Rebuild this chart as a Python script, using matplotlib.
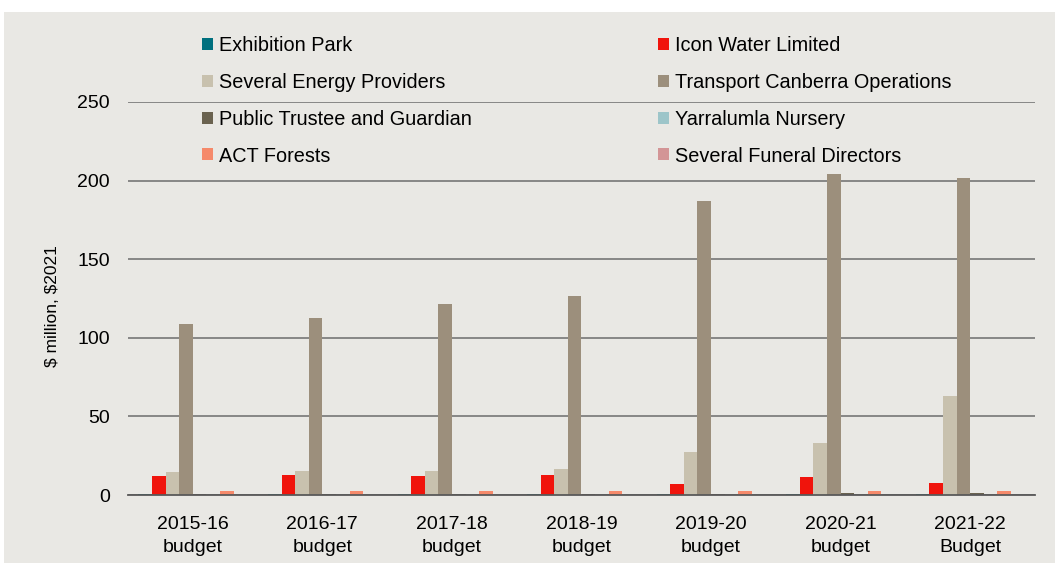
import numpy as np
import matplotlib
matplotlib.use("Agg")
from matplotlib import pyplot as plt
from matplotlib.patches import Rectangle

categories = ["2015-16\nbudget", "2016-17\nbudget", "2017-18\nbudget", "2018-19\nbudget",
              "2019-20\nbudget", "2020-21\nbudget", "2021-22\nBudget"]
series = ["Exhibition Park", "Icon Water Limited", "Several Energy Providers",
          "Transport Canberra Operations", "Public Trustee and Guardian",
          "Yarralumla Nursery", "ACT Forests", "Several Funeral Directors"]
exhibition = [0.4, 0.5, 0.5, 0.5, 0.5, 0.5, 0.5]
icon_water = [12.0, 12.8, 12.3, 13.0, 7.0, 11.3, 7.7]
energy = [14.8, 15.3, 15.0, 16.5, 27.5, 33.0, 63.0]
transport = [109.0, 112.8, 121.8, 126.3, 187.3, 204.0, 201.6]
trustee = [0.5, 0.5, 0.5, 0.5, 0.5, 1.0, 1.0]
yarralumla = [0.2, 0.2, 0.2, 0.2, 0.2, 0.2, 0.2]
forests = [2.8, 2.6, 2.6, 2.4, 2.4, 2.4, 2.4]
funeral = [0.3, 0.3, 0.3, 0.3, 0.3, 0.3, 0.3]
data = [exhibition, icon_water, energy, transport, trustee, yarralumla, forests, funeral]
colors = ["#00707E", "#F0140C", "#C8C1AE", "#9C8F7C", "#6A624F",
          "#9DC5C9", "#F5896A", "#D39596"]

bg = "#E9E8E4"
plt.rcParams['font.family'] = ['Liberation Sans', 'DejaVu Sans']

fig = plt.figure(figsize=(10.55, 5.63), dpi=100)
fig.patch.set_facecolor("white")
fig.patches.append(Rectangle((4 / 1055, 0), 1, 1 - 12 / 563, transform=fig.transFigure,
                             facecolor=bg, edgecolor="none", zorder=-10))
ax = fig.add_axes([128 / 1055, (563 - 495) / 563, (1035 - 128) / 1055, 393 / 563])
ax.patch.set_alpha(0)

x = np.arange(len(categories))
w = 0.105
for i, (vals, c) in enumerate(zip(data, colors)):
    ax.bar(x + (i - 3.5) * w, vals, w, color=c, label=series[i], zorder=3)

ax.set_xlim(-0.5, len(categories) - 0.5)
ax.set_ylim(0, 250)
ax.set_yticks(range(0, 251, 50))
ax.tick_params(axis="y", length=0, labelsize=14, pad=13)
ax.tick_params(axis="x", length=0, labelsize=14, pad=15)
ax.set_xticks(x)
ax.set_xticklabels(categories, linespacing=1.5)
ax.yaxis.grid(True, color="#7F7F7F", linewidth=1.3, zorder=0)
for s in ["top", "right", "left"]:
    ax.spines[s].set_visible(False)
ax.spines["bottom"].set_color("#595959")
ax.spines["bottom"].set_linewidth(1.3)
ax.spines["bottom"].set_zorder(4)
ax.set_ylabel(r"\$ million, \$2021", fontsize=12.5)
ax.yaxis.set_label_coords(-68 / 907, 0.48)

handles, labels = ax.get_legend_handles_labels()
# two columns, filled row by row
idx = [0, 2, 4, 6, 1, 3, 5, 7]
leg = fig.legend([handles[i] for i in idx], [labels[i] for i in idx], ncol=2,
                 loc="upper left", bbox_to_anchor=(184 / 1055, 1 - 18 / 563),
                 frameon=False, handlelength=0.55, handleheight=0.55,
                 handletextpad=0.3, columnspacing=9.4, labelspacing=0.9,
                 prop={'size': 14.3})

fig.savefig("out.png", dpi=100, facecolor=fig.get_facecolor())
